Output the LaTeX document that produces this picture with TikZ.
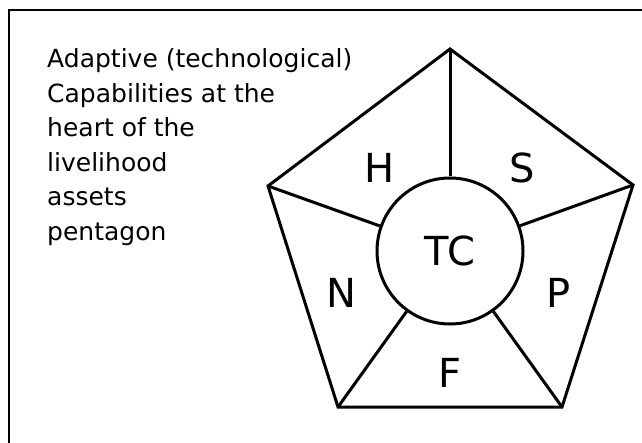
\documentclass[tikz,border=0pt]{standalone}
\usepackage{fontspec}
\setmainfont{DejaVu Sans}
\begin{document}
\begin{tikzpicture}[x=1pt,y=-1pt,
  edge/.style={line width=3pt,line join=miter},
  frame/.style={line width=2.5pt},
  desc/.style={anchor=base west,inner sep=0pt,font=\fontsize{25}{30}\selectfont},
  lbl/.style={anchor=base,inner sep=0pt,font=\fontsize{40}{48}\selectfont}]
\useasboundingbox (0,0) rectangle (642,443);
\draw[frame] (9,443) -- (9,10) -- (642,10);
% text
\node[desc] (t1) at (47,68) {Adaptive (technological)};
\node[desc] (t2) at (47,102.5) {Capabilities at the};
\node[desc] (t3) at (47,137) {heart of the};
\node[desc] (t4) at (47,171.5) {livelihood};
\node[desc] (t5) at (47,206) {assets};
\node[desc] (t6) at (47,240.5) {pentagon};
% pentagon
\coordinate (vt) at (450,49);
\coordinate (vr) at (633,185);
\coordinate (vbr) at (562,407);
\coordinate (vbl) at (338,407);
\coordinate (vl) at (268,186);
\draw[edge] (vt) -- (vr) -- (vbr) -- (vbl) -- (vl) -- cycle;
\node[circle,draw,line width=3pt,minimum size=146pt,inner sep=0pt,
  font=\fontsize{40}{48}\selectfont] (tc) at (450,251) {TC};
\foreach \v in {vt,vr,vbr,vbl,vl} \draw[edge] (\v) -- (tc);
% labels
\node[lbl] (h) at (380,183) {H};
\node[lbl] (s) at (522,183) {S};
\node[lbl] (n) at (341,308) {N};
\node[lbl] (p) at (559,308) {P};
\node[lbl] (f) at (450,387) {F};
\end{tikzpicture}
\end{document}
